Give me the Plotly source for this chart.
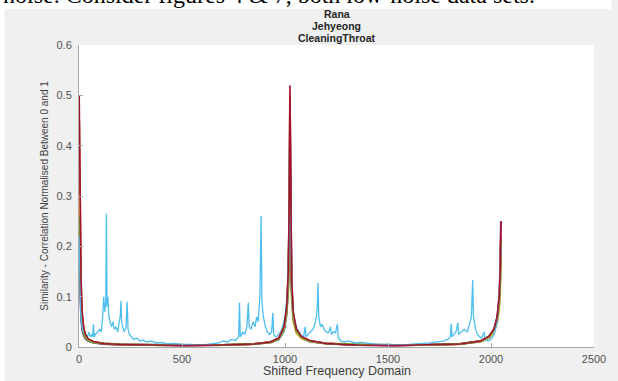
import plotly.graph_objects as go

# ---- data -------------------------------------------------------------
# shared sample positions for the smooth similarity curves
freq_smooth = [1, 3, 6, 10, 15, 22, 30, 45, 70, 120, 200, 350, 512, 700, 850,
               930, 970, 995, 1008, 1016, 1021, 1024, 1027, 1032, 1040, 1055,
               1080, 1120, 1200, 1350, 1536, 1700, 1850, 1950, 1990, 2015,
               2030, 2040, 2045, 2048]

sim_blue = [0.23, 0.17, 0.11, 0.065, 0.04, 0.026, 0.018, 0.012, 0.009, 0.006,
            0.005, 0.004, 0.004, 0.004, 0.006, 0.009, 0.015, 0.032, 0.065, 0.12,
            0.24, 0.40, 0.25, 0.11, 0.055, 0.03, 0.018, 0.011, 0.007, 0.004,
            0.004, 0.004, 0.006, 0.011, 0.018, 0.03, 0.05, 0.085, 0.13, 0.20]
sim_orange = [0.45, 0.35, 0.22, 0.12, 0.065, 0.038, 0.024, 0.015, 0.010, 0.007,
              0.005, 0.004, 0.003, 0.004, 0.006, 0.010, 0.017, 0.038, 0.075, 0.14,
              0.29, 0.50, 0.30, 0.13, 0.065, 0.034, 0.02, 0.012, 0.007, 0.004,
              0.003, 0.004, 0.006, 0.012, 0.02, 0.034, 0.055, 0.09, 0.14, 0.22]
sim_yellow = [0.30, 0.23, 0.15, 0.085, 0.05, 0.03, 0.02, 0.013, 0.009, 0.006,
              0.005, 0.004, 0.004, 0.004, 0.006, 0.009, 0.016, 0.034, 0.065, 0.11,
              0.21, 0.35, 0.22, 0.10, 0.05, 0.028, 0.017, 0.011, 0.007, 0.004,
              0.004, 0.004, 0.006, 0.011, 0.018, 0.03, 0.048, 0.075, 0.115, 0.18]
sim_purple = [0.18, 0.14, 0.095, 0.058, 0.036, 0.024, 0.017, 0.012, 0.009, 0.006,
              0.005, 0.004, 0.003, 0.004, 0.006, 0.010, 0.017, 0.036, 0.07, 0.13,
              0.27, 0.46, 0.28, 0.12, 0.06, 0.032, 0.019, 0.012, 0.007, 0.004,
              0.003, 0.004, 0.006, 0.012, 0.021, 0.036, 0.06, 0.10, 0.16, 0.25]
sim_green = [0.26, 0.20, 0.13, 0.075, 0.045, 0.028, 0.019, 0.013, 0.009, 0.007,
             0.005, 0.004, 0.004, 0.004, 0.006, 0.010, 0.017, 0.036, 0.07, 0.125,
             0.26, 0.44, 0.27, 0.12, 0.058, 0.031, 0.019, 0.012, 0.007, 0.005,
             0.004, 0.004, 0.006, 0.012, 0.02, 0.034, 0.055, 0.09, 0.14, 0.21]
sim_red = [0.50, 0.39, 0.25, 0.135, 0.072, 0.042, 0.026, 0.016, 0.011, 0.007,
           0.005, 0.004, 0.003, 0.004, 0.006, 0.010, 0.018, 0.04, 0.08, 0.15,
           0.30, 0.52, 0.31, 0.14, 0.07, 0.036, 0.021, 0.013, 0.007, 0.004,
           0.003, 0.004, 0.006, 0.012, 0.021, 0.036, 0.06, 0.10, 0.16, 0.25]

# the noisy recording, sampled at its own positions
freq_noisy = [1, 4, 8, 12, 18, 25, 32, 40, 48, 55, 62, 66, 70, 74, 80, 90, 100,
              108, 115, 120, 125, 130, 133, 136, 140, 145, 150, 158, 165, 172,
              180, 188, 195, 200, 204, 207, 212, 220, 228, 234, 238, 245, 255,
              265, 280, 295, 310, 330, 350, 375, 400, 430, 460, 500, 540, 580,
              620, 650, 680, 700, 720, 740, 760, 775, 779, 783, 795, 805, 815,
              822, 826, 835, 845, 855, 862, 870, 878, 884, 888, 895, 905, 915,
              925, 935, 941, 945, 955, 970, 985, 1000, 1010, 1018, 1024, 1030,
              1038, 1048, 1060, 1075, 1090, 1098, 1102, 1112, 1125, 1135, 1145,
              1152, 1157, 1160, 1164, 1172, 1180, 1190, 1200, 1210, 1221, 1225,
              1235, 1245, 1254, 1258, 1270, 1290, 1310, 1340, 1370, 1400, 1450,
              1500, 1550, 1600, 1650, 1700, 1740, 1770, 1790, 1803, 1807, 1811,
              1820, 1830, 1839, 1843, 1855, 1870, 1885, 1898, 1905, 1911, 1915,
              1925, 1935, 1945, 1955, 1967, 1971, 1985, 2000, 2015, 2030, 2040,
              2045, 2048]
sim_noisy = [0.22, 0.12, 0.07, 0.05, 0.035, 0.03, 0.025, 0.02, 0.03, 0.02, 0.025,
             0.02, 0.045, 0.02, 0.025, 0.03, 0.035, 0.03, 0.06, 0.10, 0.07, 0.09,
             0.265, 0.08, 0.10, 0.06, 0.05, 0.04, 0.05, 0.035, 0.04, 0.03, 0.05,
             0.06, 0.092, 0.05, 0.04, 0.03, 0.04, 0.09, 0.035, 0.025, 0.02, 0.015,
             0.018, 0.012, 0.014, 0.01, 0.012, 0.008, 0.009, 0.006, 0.007, 0.005,
             0.005, 0.004, 0.005, 0.006, 0.008, 0.012, 0.01, 0.015, 0.013, 0.02,
             0.088, 0.02, 0.03, 0.025, 0.04, 0.088, 0.04, 0.035, 0.05, 0.04, 0.06,
             0.05, 0.10, 0.26, 0.09, 0.06, 0.04, 0.03, 0.025, 0.03, 0.068, 0.025,
             0.02, 0.025, 0.035, 0.06, 0.10, 0.18, 0.30, 0.17, 0.08, 0.05, 0.035,
             0.025, 0.02, 0.04, 0.02, 0.025, 0.03, 0.035, 0.045, 0.06, 0.08, 0.127,
             0.06, 0.04, 0.045, 0.035, 0.03, 0.028, 0.04, 0.025, 0.03, 0.028,
             0.045, 0.02, 0.012, 0.01, 0.012, 0.008, 0.009, 0.007, 0.005, 0.005,
             0.004, 0.005, 0.006, 0.008, 0.01, 0.012, 0.015, 0.02, 0.046, 0.02,
             0.025, 0.03, 0.048, 0.025, 0.03, 0.035, 0.03, 0.05, 0.06, 0.133, 0.06,
             0.035, 0.025, 0.02, 0.018, 0.03, 0.015, 0.012, 0.015, 0.025, 0.05,
             0.10, 0.15, 0.20]

x_ticks = [0, 500, 1000, 1500, 2000, 2500]
y_ticks = [0, 0.1, 0.2, 0.3, 0.4, 0.5, 0.6]
y_tick_text = ["0", "0.1", "0.2", "0.3", "0.4", "0.5", "0.6"]

title_lines = ["Rana", "Jehyeong", "CleaningThroat"]
x_title = "Shifted Frequency Domain"
y_title = "Similarity - Correlation Normalised Between 0 and 1"
caption = "noise. Consider figures 4 & 7, both low-noise data sets."

# ---- layout geometry --------------------------------------------------
W, H = 618, 381
ML, MR, MT, MB = 79, 13, 45, 34
PW, PH = W - ML - MR, H - MT - MB


def px_x(p):
    return (p - ML) / PW


def px_y(p):
    return (H - MB - p) / PH


SANS = "Liberation Sans, Arial, Helvetica, sans-serif"
SERIF = "Liberation Serif, Times New Roman, serif"

smooth_series = [
    (sim_blue, "#0072BD"),
    (sim_orange, "#D95319"),
    (sim_yellow, "#EDB120"),
    (sim_purple, "#7E2F8E"),
    (sim_green, "#77AC30"),
]

fig = go.Figure()
for ys, col in smooth_series:
    fig.add_trace(go.Scatter(x=freq_smooth, y=ys, mode="lines",
                             line=dict(color=col, width=1.9),
                             showlegend=False, hoverinfo="skip"))
fig.add_trace(go.Scatter(x=freq_noisy, y=sim_noisy, mode="lines",
                         line=dict(color="#4DBEEE", width=1.3),
                         showlegend=False, hoverinfo="skip"))
fig.add_trace(go.Scatter(x=freq_smooth, y=sim_red, mode="lines",
                         line=dict(color="#A2142F", width=1.6),
                         showlegend=False, hoverinfo="skip"))

axis_col = "#a8a8a8"
tick_font = dict(family=SANS, size=11, color="#505050")

fig.update_xaxes(range=[0, 2500], tickvals=x_ticks, ticks="inside", ticklen=4,
                 tickcolor=axis_col, showline=True, linecolor=axis_col,
                 linewidth=1, mirror=False, showgrid=False, zeroline=False,
                 tickfont=tick_font, ticklabelstandoff=2)
fig.update_yaxes(range=[0, 0.6], tickvals=y_ticks, ticktext=y_tick_text,
                 ticks="inside", ticklen=4, tickcolor=axis_col, showline=True,
                 linecolor=axis_col, linewidth=1, mirror=False, showgrid=False,
                 zeroline=False, tickfont=tick_font, ticklabelstandoff=4)

annotations = []
for i, line in enumerate(title_lines):
    annotations.append(dict(text="<b>%s</b>" % line, x=px_x(342), y=px_y(14 + 11.8 * i),
                            xref="paper", yref="paper", showarrow=False,
                            xanchor="center", yanchor="middle", borderpad=0,
                            font=dict(family=SANS, size=10.5, color="#262626")))
annotations.append(dict(text=x_title, x=px_x(342), y=px_y(371), xref="paper",
                        yref="paper", showarrow=False, xanchor="center",
                        yanchor="middle",
                        font=dict(family=SANS, size=12.5, color="#404040")))
annotations.append(dict(text=y_title, x=px_x(43), y=px_y(196), xref="paper",
                        yref="paper", showarrow=False, xanchor="center",
                        yanchor="middle", textangle=-90,
                        font=dict(family=SANS, size=10, color="#404040")))
annotations.append(dict(text=caption, x=px_x(0), y=px_y(-5), xref="paper",
                        yref="paper", showarrow=False, xanchor="left",
                        yanchor="middle", borderpad=0,
                        font=dict(family=SERIF, size=24, color="#000000")))

shapes = [
    # white page strip above and left of the figure panel
    dict(type="rect", xref="paper", yref="paper", layer="below",
         x0=px_x(-5), x1=px_x(W + 5), y0=px_y(9), y1=px_y(-20),
         fillcolor="white", line=dict(width=0)),
    dict(type="rect", xref="paper", yref="paper", layer="below",
         x0=px_x(-5), x1=px_x(3), y0=px_y(H + 5), y1=px_y(-20),
         fillcolor="white", line=dict(width=0)),
]

fig.update_layout(width=W, height=H, autosize=False,
                  margin=dict(l=ML, r=MR, t=MT, b=MB, pad=0),
                  paper_bgcolor="#f0f0f0", plot_bgcolor="white",
                  annotations=annotations, shapes=shapes)

fig.write_html("out.html", config={"displayModeBar": False})
